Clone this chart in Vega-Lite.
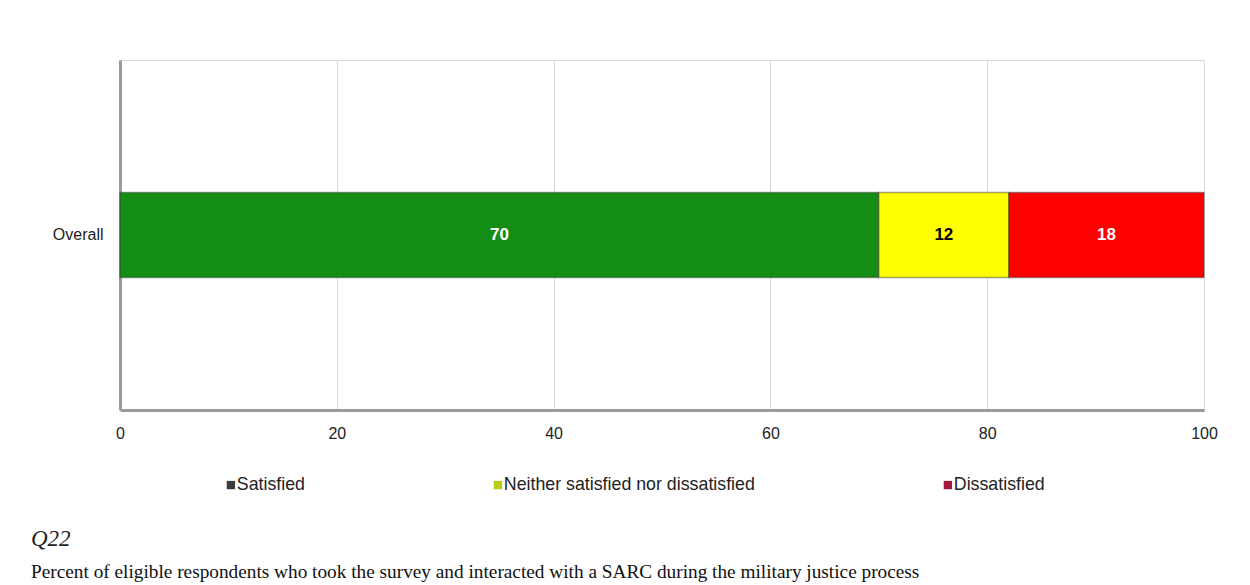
{
  "$schema": "https://vega.github.io/schema/vega-lite/v6.json",
  "autosize": {"type": "none"},
  "width": 1084,
  "height": 350,
  "padding": {"left": 120, "top": 60, "right": 46, "bottom": 175},
  "background": "white",
  "config": {
    "font": "Liberation Sans",
    "view": {"stroke": "#d9d9d9", "strokeWidth": 1}
  },
  "title": {
    "text": "Q22",
    "subtitle": "Percent of eligible respondents who took the survey and interacted with a SARC during the military justice process",
    "orient": "bottom",
    "anchor": "start",
    "frame": "group",
    "dx": -89,
    "font": "Liberation Serif",
    "fontSize": 23,
    "fontStyle": "italic",
    "fontWeight": "normal",
    "color": "#222",
    "subtitleFont": "Liberation Serif",
    "subtitleFontSize": 19.3,
    "subtitleColor": "#111",
    "subtitlePadding": 12,
    "offset": 34
  },
  "data": {
    "values": [
      {"group": "Overall", "category": "Satisfied", "rank": 1, "value": 70},
      {"group": "Overall", "category": "Neither satisfied nor dissatisfied", "rank": 2, "value": 12},
      {"group": "Overall", "category": "Dissatisfied", "rank": 3, "value": 18}
    ]
  },
  "transform": [
    {"stack": "value", "groupby": ["group"], "sort": [{"field": "rank", "order": "ascending"}], "as": ["x0", "x1"]},
    {"calculate": "(datum.x0 + datum.x1) / 2", "as": "mid"}
  ],
  "encoding": {
    "y": {
      "field": "group",
      "type": "nominal",
      "scale": {"paddingInner": 0.3585, "paddingOuter": 1},
      "axis": {
        "title": null,
        "ticks": false,
        "labelPadding": 17,
        "labelFontSize": 16,
        "labelColor": "#222",
        "domainColor": "#9a9a9a",
        "domainWidth": 3,
        "grid": false
      }
    }
  },
  "resolve": {
    "scale": {"fill": "independent", "color": "independent"},
    "legend": {"fill": "independent", "color": "independent"}
  },
  "layer": [
    {
      "mark": {"type": "bar", "stroke": "#333", "strokeOpacity": 0.45, "strokeWidth": 1.5},
      "encoding": {
        "x": {
          "field": "x0",
          "type": "quantitative",
          "scale": {"domain": [0, 100], "nice": false},
          "axis": {
            "title": null,
            "values": [0, 20, 40, 60, 80, 100],
            "ticks": false,
            "labelPadding": 15,
            "labelFontSize": 16,
            "labelColor": "#222",
            "labelFlush": false,
            "grid": true,
            "gridColor": "#d9d9d9",
            "gridWidth": 1,
            "domainColor": "#9a9a9a",
            "domainWidth": 3
          }
        },
        "x2": {"field": "x1"},
        "fill": {
          "field": "category",
          "type": "nominal",
          "scale": {
            "domain": ["Satisfied", "Neither satisfied nor dissatisfied", "Dissatisfied"],
            "range": ["#138d13", "#ffff00", "#ff0000"]
          },
          "legend": null
        },
        "order": {"field": "rank", "type": "quantitative"}
      }
    },
    {
      "mark": {"type": "point", "shape": "square", "filled": true, "size": 0, "strokeWidth": 0},
      "encoding": {
        "x": {"field": "mid", "type": "quantitative"},
        "fill": {
          "field": "category",
          "type": "nominal",
          "scale": {
            "domain": ["Satisfied", "Neither satisfied nor dissatisfied", "Dissatisfied"],
            "range": ["#3c3c3c", "#b9cc1c", "#a3173c"]
          },
          "legend": {
            "title": null,
            "orient": "none",
            "direction": "horizontal",
            "legendX": 102,
            "legendY": 416,
            "columnPadding": 184,
            "symbolType": "square",
            "symbolSize": 70,
            "symbolOpacity": 1,
            "symbolStrokeWidth": 0,
            "labelOffset": -3,
            "labelLimit": 400,
            "labelFontSize": 17.8,
            "labelColor": "#222"
          }
        }
      }
    },
    {
      "mark": {"type": "text", "fontWeight": "bold", "fontSize": 17, "align": "center", "baseline": "middle"},
      "encoding": {
        "x": {"field": "mid", "type": "quantitative"},
        "text": {"field": "value", "type": "quantitative"},
        "color": {
          "condition": {"test": "datum.category === 'Neither satisfied nor dissatisfied'", "value": "#000000"},
          "value": "#ffffff"
        }
      }
    }
  ]
}
